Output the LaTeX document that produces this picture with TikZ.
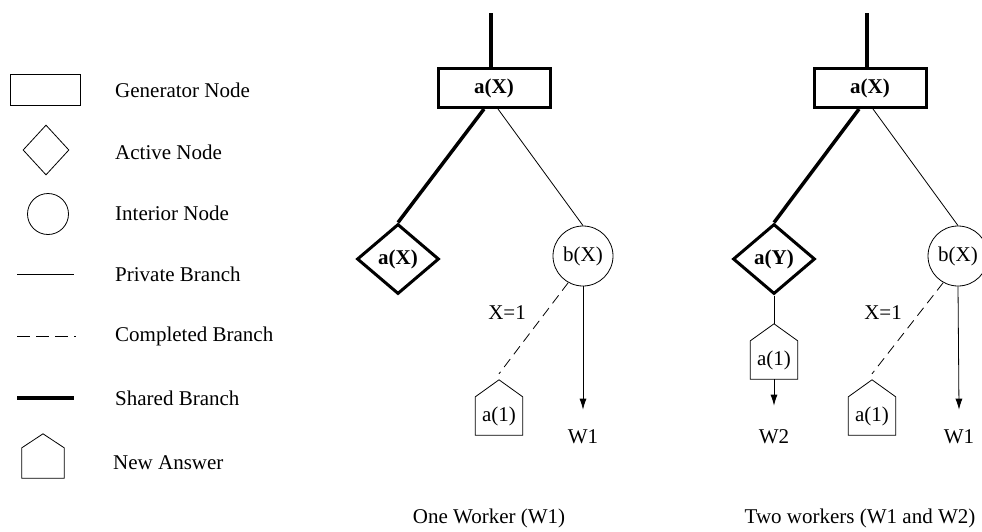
\documentclass[tikz,border=0pt]{standalone}
\usepackage{fontspec}
\setmainfont{Liberation Serif}
\usepackage{tikz}
\usetikzlibrary{positioning}
\usetikzlibrary{calc}
\usetikzlibrary{arrows.meta}
\usetikzlibrary{shapes.geometric}

% outline of an answer node: box with a roof
\newcommand{\answerroof}[2]{%
	\draw[private] (#1.south west) -- (#1.north west) -- ([yshift=#2]#1.north)
		-- (#1.north east) -- (#1.south east) -- cycle;}

\begin{document}
\begin{tikzpicture}[
		x=1pt, y=-1pt,
		every node/.style = {
			font=\fontsize{21}{25}\selectfont,
			inner sep=0pt
		},
		gen/.style = {
			shape=rectangle,
			draw,
			line width=3pt,
			minimum width=112pt,
			minimum height=39pt
		},
		active/.style = {
			shape=diamond,
			draw,
			line width=3pt,
			aspect=1.17,
			minimum width=82pt,
			minimum height=70pt
		},
		interior/.style = {
			shape=circle,
			draw,
			line width=0.8pt,
			minimum size=60pt
		},
		answer/.style = {
			shape=rectangle,
			minimum width=47pt,
			minimum height=38pt
		},
		private/.style = {line width=0.8pt},
		completed/.style = {line width=0.8pt, dash pattern=on 10pt off 6pt},
		shared/.style = {line width=3.5pt},
		flow/.style = {line width=0.8pt, -{Latex[length=11pt, width=7pt]}}
		]
		\clip (0,0) rectangle (982,531);

		% legend
		\node[gen, line width=0.8pt, minimum width=70pt, minimum height=31pt] (lgen) at (45,90) {};
		\node[active, line width=0.8pt, aspect=0.92, minimum width=46pt, minimum height=50pt] (lact) at (46,150) {};
		\node[interior, minimum size=41pt] (lint) at (48,214) {};
		\coordinate (lpa) at (17,274);
		\coordinate (lpb) at (74,274);
		\coordinate (lca) at (17,336);
		\coordinate (lcb) at (76,336);
		\coordinate (lsa) at (17,398);
		\coordinate (lsb) at (74,398);
		\draw[private] (lpa) -- (lpb);
		\draw[completed, dash pattern=on 13pt off 6pt] (lca) -- (lcb);
		\draw[shared] (lsa) -- (lsb);
		\node[answer, minimum width=42pt, minimum height=30pt] (lans) at (43,463) {};
		\answerroof{lans}{14pt}
		\foreach \y/\txt in {90/Generator Node, 152/Active Node, 213/Interior Node,
				274/Private Branch, 336/Completed Branch, 398/Shared Branch}
			\node[anchor=west] at (115,\y) {\txt};
		\node[anchor=west] (lnew) at (113,463) {New Answer};

		% one worker
		\coordinate (top1) at (491,13);
		\node[gen] (gen1) at (494,88) {\textbf{a(X)}};
		\node[active] (act1) at (398,259) {\textbf{a(X)}};
		\node[interior] (int1) at (583,256) {b(X)};
		\node[answer] (ans1) at (499,416) {a(1)};
		\answerroof{ans1}{17pt}
		\node (w1a) at (583,437) {W1};
		\draw[shared] (top1) -- (top1 |- gen1.north);
		\draw[shared] ([xshift=-10pt]gen1.south) -- (act1.north);
		\draw[private] ([xshift=4pt]gen1.south) -- (int1.north);
		\draw[completed] (int1.241) -- ([yshift=23pt]ans1.north);
		\draw[flow] (int1.south) -- ([yshift=20pt]w1a.north);
		\node at (507,313) {X=1};
		\node (cap1) at (489,518) {One Worker (W1)};

		% two workers
		\coordinate (top2) at (867,13);
		\node[gen] (gen2) at (870,88) {\textbf{a(X)}};
		\node[active] (act2) at (774,259) {\textbf{a(Y)}};
		\node[interior] (int2) at (958,256) {b(X)};
		\node[answer] (ans2) at (774,360) {a(1)};
		\answerroof{ans2}{17pt}
		\node[answer] (ans3) at (872,416) {a(1)};
		\answerroof{ans3}{17pt}
		\node (w2) at (774,437) {W2};
		\node (w1b) at (959,437) {W1};
		\draw[shared] (top2) -- (top2 |- gen2.north);
		\draw[shared] ([xshift=-11pt]gen2.south) -- (act2.north);
		\draw[private] ([xshift=3pt]gen2.south) -- (int2.north);
		\draw[private] (act2.south) -- ([yshift=17pt]ans2.north);
		\draw[flow] (ans2.south) -- ([yshift=24pt]w2.north);
		\draw[completed] (int2.241) -- ([yshift=23pt]ans3.north);
		\draw[flow] (int2.south) -- ([yshift=20pt]w1b.north);
		\node at (883,313) {X=1};
		\node (cap2) at (860,518) {Two workers (W1 and W2)};
	\end{tikzpicture}
\end{document}
